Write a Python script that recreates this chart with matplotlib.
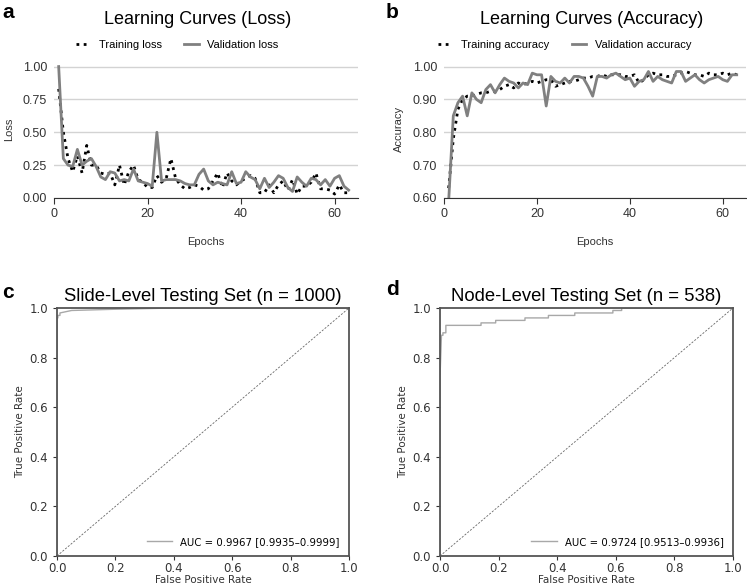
import matplotlib
matplotlib.use("Agg")
import matplotlib.pyplot as plt
import numpy as np

# ---- data ----
epochs = np.arange(1, 64)

train_loss = [0.83, 0.50, 0.30, 0.20, 0.32, 0.19, 0.40, 0.25, 0.25, 0.19,
              0.18, 0.19, 0.10, 0.25, 0.10, 0.20, 0.25, 0.14, 0.12, 0.08,
              0.08, 0.17, 0.12, 0.15, 0.30, 0.15, 0.10, 0.07, 0.08, 0.10,
              0.09, 0.06, 0.07, 0.13, 0.19, 0.08, 0.19, 0.13, 0.10, 0.13,
              0.15, 0.17, 0.15, 0.04, 0.04, 0.10, 0.04, 0.10, 0.13, 0.06,
              0.14, 0.03, 0.09, 0.09, 0.12, 0.19, 0.07, 0.07, 0.06, 0.03,
              0.10, 0.04, 0.04]
val_loss = [1.00, 0.30, 0.25, 0.24, 0.37, 0.25, 0.28, 0.30, 0.24, 0.16,
            0.14, 0.20, 0.19, 0.13, 0.14, 0.13, 0.22, 0.13, 0.12, 0.11,
            0.09, 0.50, 0.13, 0.14, 0.14, 0.14, 0.13, 0.11, 0.10, 0.10,
            0.18, 0.22, 0.13, 0.10, 0.12, 0.11, 0.10, 0.20, 0.11, 0.12,
            0.20, 0.16, 0.14, 0.07, 0.15, 0.08, 0.12, 0.17, 0.15, 0.08,
            0.05, 0.16, 0.12, 0.09, 0.15, 0.14, 0.10, 0.14, 0.09, 0.15,
            0.17, 0.09, 0.06]

train_acc = [0.63, 0.78, 0.87, 0.90, 0.91, 0.91, 0.915, 0.92, 0.92, 0.925,
             0.925, 0.93, 0.94, 0.945, 0.935, 0.95, 0.945, 0.95, 0.955, 0.95,
             0.955, 0.96, 0.96, 0.94, 0.945, 0.95, 0.955, 0.955, 0.96, 0.965,
             0.965, 0.97, 0.97, 0.975, 0.97, 0.975, 0.975, 0.975, 0.97, 0.97,
             0.975, 0.95, 0.96, 0.975, 0.98, 0.975, 0.975, 0.97, 0.97, 0.975,
             0.98, 0.985, 0.98, 0.975, 0.975, 0.97, 0.98, 0.975, 0.975, 0.98,
             0.975, 0.98, 0.975]
val_acc = [0.59, 0.85, 0.89, 0.91, 0.85, 0.92, 0.90, 0.89, 0.93, 0.945,
           0.92, 0.945, 0.965, 0.955, 0.95, 0.935, 0.95, 0.945, 0.98, 0.975,
           0.975, 0.88, 0.97, 0.955, 0.95, 0.965, 0.95, 0.97, 0.97, 0.965,
           0.94, 0.91, 0.97, 0.97, 0.965, 0.975, 0.98, 0.97, 0.96, 0.965,
           0.94, 0.955, 0.96, 0.985, 0.955, 0.97, 0.96, 0.955, 0.95, 0.985,
           0.985, 0.955, 0.965, 0.975, 0.96, 0.95, 0.96, 0.965, 0.97, 0.96,
           0.955, 0.975, 0.975]

slide_fpr = [0.0, 0.0, 0.0, 0.003, 0.003, 0.01, 0.01, 0.03, 0.05, 0.2, 0.4, 1.0]
slide_tpr = [0.0, 0.89, 0.96, 0.96, 0.97, 0.97, 0.98, 0.985, 0.99, 0.995, 1.0, 1.0]
slide_auc = "AUC = 0.9967 [0.9935\u20130.9999]"

node_fpr = [0.0, 0.0, 0.005, 0.01, 0.01, 0.02, 0.02, 0.14, 0.14, 0.19, 0.19,
            0.29, 0.29, 0.37, 0.37, 0.46, 0.46, 0.59, 0.59, 0.62, 0.62, 1.0]
node_tpr = [0.0, 0.72, 0.89, 0.89, 0.90, 0.90, 0.93, 0.93, 0.94, 0.94, 0.95,
            0.95, 0.96, 0.96, 0.97, 0.97, 0.98, 0.98, 0.99, 0.99, 1.0, 1.0]
node_auc = "AUC = 0.9724 [0.9513\u20130.9936]"

W, H = 747, 588
fig = plt.figure(figsize=(W / 100, H / 100), dpi=100)

def px_axes(left, top, right, bottom):
    return fig.add_axes([left / W, 1 - bottom / H, (right - left) / W, (bottom - top) / H])

arial = "Liberation Sans"
dark = "#333333"


def learning_panel(ax, train, val, title, tlab, vlab, ylab, ylim, yticks, tx, lx):
    ax.plot(epochs, train, linestyle=(0, (1, 1.6)), color="black", lw=2.0, label=tlab)
    ax.plot(epochs, val, color="#808080", lw=2.0, label=vlab)
    ax.set_xlim(0, 65)
    ax.set_ylim(*ylim)
    ax.set_yticks(yticks)
    ax.set_yticklabels(["%.2f" % v for v in yticks])
    ax.set_xticks([0, 20, 40, 60])
    ax.grid(axis="y", color="#d3d3d3", lw=1)
    ax.set_axisbelow(True)
    for s in ["top", "right", "left"]:
        ax.spines[s].set_visible(False)
    ax.spines["bottom"].set_color(dark)
    ax.tick_params(axis="y", length=0, labelsize=9, colors=dark, pad=5)
    ax.tick_params(axis="x", length=4, labelsize=9, colors=dark)
    for lab in ax.get_xticklabels() + ax.get_yticklabels():
        lab.set_fontfamily(arial)
    ax.set_title(title, fontsize=13, family=arial, x=tx, y=1.2)
    ax.set_xlabel("Epochs", fontsize=8, family=arial, labelpad=12, color=dark)
    ax.set_ylabel(ylab, fontsize=8, family=arial, labelpad=6, color=dark)
    ax.legend(loc="center", bbox_to_anchor=(lx, 1.11), ncol=2, frameon=False,
              prop={"family": arial, "size": 8}, handlelength=1.3, columnspacing=2.0)


ax_a = px_axes(54, 60, 358, 198)
learning_panel(ax_a, train_loss, val_loss, "Learning Curves (Loss)", "Training loss",
               "Validation loss", "Loss", (0, 1.05), [0, 0.25, 0.5, 0.75, 1.0], 0.474, 0.405)

ax_b = px_axes(444, 60, 746, 198)
learning_panel(ax_b, train_acc, val_acc, "Learning Curves (Accuracy)", "Training accuracy",
               "Validation accuracy", "Accuracy", (0.6, 1.02), [0.6, 0.7, 0.8, 0.9, 1.0], 0.488, 0.40)


def roc_panel(ax, fpr, tpr, label, title):
    ax.plot(fpr, tpr, color="#a8a8a8", lw=1.0, label=label)
    ax.plot([0, 1], [0, 1], linestyle=(0, (2.5, 1.8)), color="#666666", lw=0.6)
    ax.set_xlim(0, 1)
    ax.set_ylim(0, 1)
    ax.set_xticks(np.arange(0, 1.01, 0.2))
    ax.set_yticks(np.arange(0, 1.01, 0.2))
    for s in ax.spines.values():
        s.set_color("#555555")
        s.set_linewidth(1.3)
    ax.tick_params(labelsize=8.5, colors=dark, length=3)
    ax.tick_params(axis="x", pad=1.5)
    ax.set_xlabel("False Positive Rate", fontsize=7.5, color=dark, labelpad=0)
    ax.set_ylabel("True Positive Rate", fontsize=7.5, color=dark, labelpad=3)
    ax.set_title(title, fontsize=13.3, family=arial, pad=5)
    ax.legend(loc="lower right", frameon=False, fontsize=7.3, handlelength=2.5)


ax_c = px_axes(57, 308, 349, 556)
roc_panel(ax_c, slide_fpr, slide_tpr, slide_auc, "Slide-Level Testing Set (n = 1000)")

ax_d = px_axes(440, 308, 733, 556)
roc_panel(ax_d, node_fpr, node_tpr, node_auc, "Node-Level Testing Set (n = 538)")

for lab, x, y in [("a", 2, 3), ("b", 386, 3), ("c", 2, 283), ("d", 386, 280)]:
    fig.text(x / W, 1 - y / H, lab, fontsize=15, fontweight="bold", family=arial,
             ha="left", va="top")

fig.savefig("out.png", dpi=100)
